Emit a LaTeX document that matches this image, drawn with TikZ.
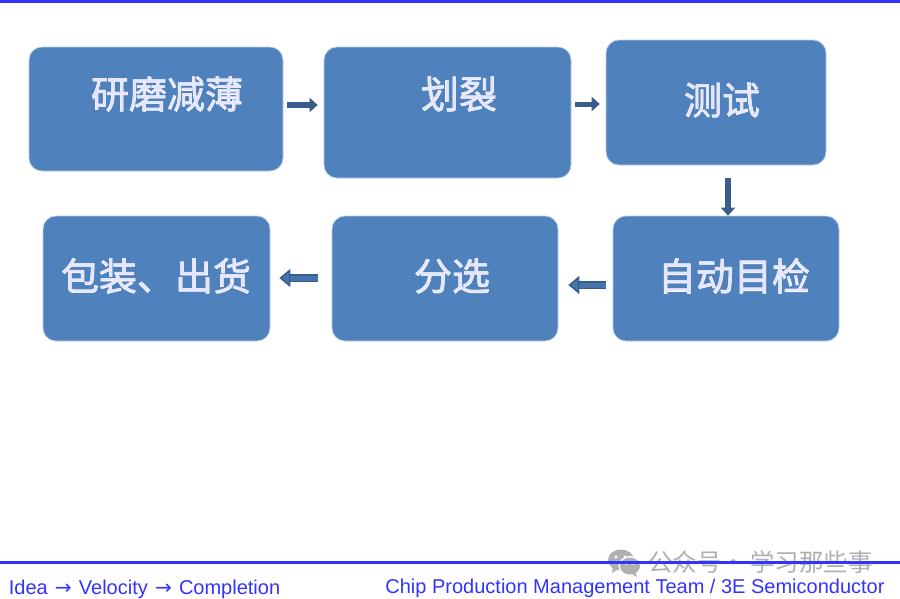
\documentclass[tikz,border=0pt]{standalone}
\usepackage{fontspec}
\usetikzlibrary{arrows.meta}
\setmainfont{Liberation Sans}
\newfontfamily\cjkthin{Noto Sans CJK SC}
\newfontfamily\cjkfat[FakeBold=1.6]{Noto Sans CJK SC}
\newfontfamily\arrowfont{DejaVu Sans}
\definecolor{boxblue}{HTML}{4F81BD}
\definecolor{boxedge}{HTML}{B8CCE4}
\definecolor{arrowedge}{HTML}{385D8A}
\definecolor{linkblue}{HTML}{3333FF}
\definecolor{markgray}{HTML}{B0B0B0}
\newcommand{\steptext}[1]{\rlap{\cjkfat\color{white}#1}{\cjkthin\color{blue!10!white}#1}}
\newcommand{\footarrow}{\hspace{7.2pt}{\arrowfont →}\hspace{7.2pt}}
\tikzset{%
    stepbox/.style={rectangle, rounded corners=13pt, fill=boxblue, draw=boxedge,
        line width=.7pt, inner sep=0pt},
    steplabel/.style={inner sep=0pt, font=\fontsize{38}{38}\selectfont},
    thinflow/.style={draw=arrowedge, line width=#1,
        -{Triangle[length=8pt, width=14pt, fill=arrowedge]}},
    wideflow/.style={double=boxblue!90!black, draw=arrowedge, line width=1.5pt,
        double distance=5pt,
        -{Triangle[length=11pt, width=18pt, fill=boxblue!90!black]}},
    footer/.style={inner sep=0pt, anchor=base, text=linkblue, font=\fontsize{20}{20}\selectfont},
    rule/.style={linkblue, line width=3pt}
}

\begin{document}
\begin{tikzpicture}[x=1pt, y=-1pt]
  \useasboundingbox (0,0) rectangle (900,598);
  \fill[white] (0,0) rectangle (900,598);

  \node (grind) [stepbox, minimum width=254pt, minimum height=124pt] at (156,109) {};
  \node (scribe) [stepbox, minimum width=247pt, minimum height=131pt] at (447.5,112.5) {};
  \node (test) [stepbox, minimum width=220pt, minimum height=125pt] at (716,102.5) {};
  \node (inspect) [stepbox, minimum width=226pt, minimum height=125pt] at (726,278.5) {};
  \node (sort) [stepbox, minimum width=226pt, minimum height=125pt] at (445,278.5) {};
  \node (ship) [stepbox, minimum width=227pt, minimum height=125pt] at (156.5,278.5) {};

  \node (grindtext) [steplabel] at (167,94) {\steptext{研磨减薄}};
  \node (scribetext) [steplabel] at (459,94) {\steptext{划裂}};
  \node (testtext) [steplabel] at (722,100) {\steptext{测试}};
  \node (inspecttext) [steplabel] at (734,276) {\steptext{自动目检}};
  \node (sorttext) [steplabel] at (452,276) {\steptext{分选}};
  \node (shiptext) [steplabel] at (156,276) {\steptext{包装、出货}};

  \draw[thinflow=6pt, shorten <=4pt, shorten >=6pt] (grind.east |- 0,105) -- (scribe.west |- 0,105);
  \draw[thinflow=5pt, shorten <=4pt, shorten >=6pt] (scribe.east |- 0,104) -- (test.west |- 0,104);
  \draw[thinflow=6pt, shorten <=13pt] (test.south -| 728,0) -- (inspect.north -| 728,0);
  \draw[wideflow, shorten <=7pt, shorten >=10pt] (inspect.west |- 0,285) -- (sort.east |- 0,285);
  \draw[wideflow, shorten <=14pt, shorten >=9pt] (sort.west |- 0,278) -- (ship.east |- 0,278);

  \draw[rule] (0,1.5) -- (900,1.5);

  \node (motto) [footer] at (144.5,594) {Idea\footarrow Velocity\footarrow Completion};
  \node (team) [footer] at (635,593) {Chip Production Management Team / 3E Semiconductor};

  \fill[markgray] (621,560) ellipse (13pt and 10.5pt);
  \fill[markgray] (613,566) -- (612,573) -- (620,568) -- cycle;
  \fill[white] (630,566) ellipse (11.5pt and 10pt);
  \fill[markgray] (630,566) ellipse (10pt and 8.5pt);
  \fill[markgray] (635,572) -- (637,577) -- (630,573) -- cycle;
  \fill[white] (616,557) circle (1.6pt) (625,557) circle (1.6pt)
    (626.5,564) circle (1.2pt) (633.5,564) circle (1.2pt);
  \node (mark) [inner sep=0pt, anchor=west, text=markgray,
    font=\cjkthin\fontsize{24.4}{24.4}\selectfont] at (648,562) {公众号\hspace{.5pt}·\hspace{4.3pt}学习那些事};

  \draw[rule] (0,562) -- (900,562);
\end{tikzpicture}
\end{document}
